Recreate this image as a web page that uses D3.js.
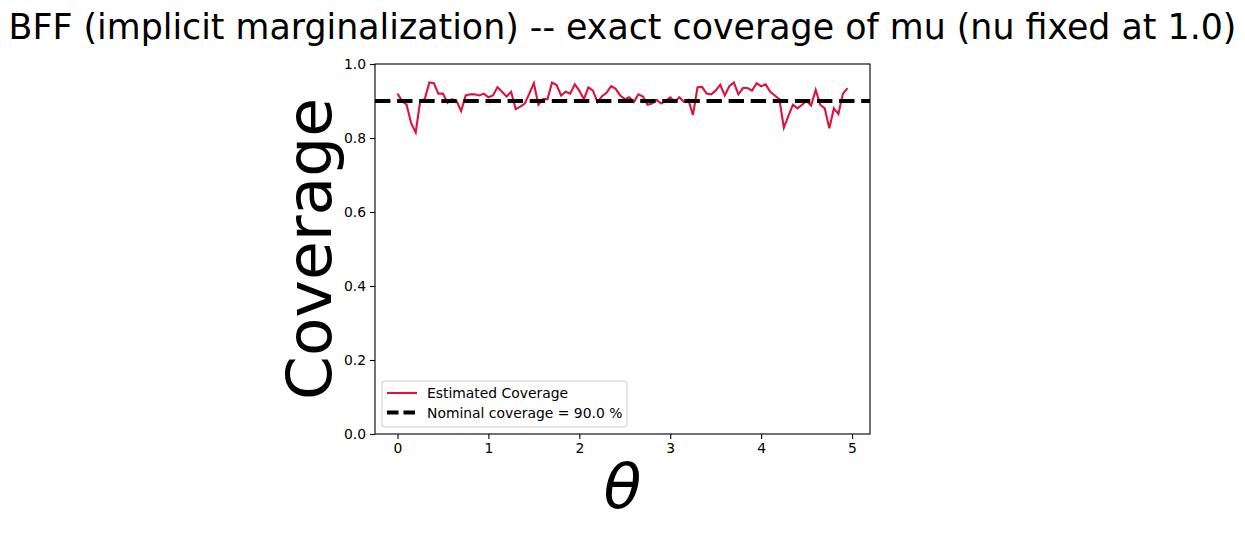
<!DOCTYPE html>
<html lang="en">
<head>
<meta charset="utf-8">
<title>BFF coverage</title>
<script src="https://cdnjs.cloudflare.com/ajax/libs/d3/7.8.5/d3.min.js"></script>
<style>
  body { margin: 0; background: #fff; }
  text { font-family: "DejaVu Sans", sans-serif; }
</style>
</head>
<body>
<script>
// theta grid 0 .. 4.95, step 0.05
const thetas = d3.range(100).map(i => +(i * 0.05).toFixed(2));
const coverage = [
  0.920, 0.900, 0.890, 0.840, 0.815, 0.900, 0.905, 0.950, 0.948, 0.920,
  0.920, 0.895, 0.905, 0.900, 0.873, 0.915, 0.918, 0.918, 0.915, 0.920,
  0.910, 0.915, 0.937, 0.925, 0.912, 0.925, 0.878, 0.885, 0.893, 0.920,
  0.948, 0.890, 0.905, 0.905, 0.950, 0.943, 0.915, 0.925, 0.920, 0.945,
  0.928, 0.905, 0.937, 0.928, 0.897, 0.913, 0.922, 0.940, 0.933, 0.915,
  0.905, 0.910, 0.897, 0.918, 0.912, 0.890, 0.893, 0.903, 0.893, 0.900,
  0.910, 0.898, 0.910, 0.898, 0.903, 0.862, 0.937, 0.938, 0.920, 0.918,
  0.928, 0.944, 0.915, 0.940, 0.950, 0.918, 0.935, 0.935, 0.928, 0.948,
  0.940, 0.945, 0.925, 0.915, 0.905, 0.828, 0.860, 0.890, 0.880, 0.890,
  0.900, 0.888, 0.930, 0.890, 0.880, 0.826, 0.880, 0.865, 0.920, 0.935
];
const nominal = 0.9;
const xTicks = [0, 1, 2, 3, 4, 5];
const yTicks = [0.0, 0.2, 0.4, 0.6, 0.8, 1.0];
const titleText = "BFF (implicit marginalization) -- exact coverage of mu (nu fixed at 1.0)";
const legendLabels = ["Estimated Coverage", "Nominal coverage = 90.0 %"];

const W = 1245, H = 533;
const m = { left: 375, right: 870, top: 64, bottom: 434 };

const svg = d3.select("body").append("svg")
  .attr("width", W).attr("height", H);

const x = d3.scaleLinear().domain([-0.2475, 5.1975]).range([m.left, m.right]);
const y = d3.scaleLinear().domain([0, 1]).range([m.bottom, m.top]);

// axes
const xAxis = svg.append("g")
  .attr("transform", `translate(0,${m.bottom})`)
  .call(d3.axisBottom(x).tickValues(xTicks).tickFormat(d3.format("d")).tickSize(5).tickPadding(4));
const yAxis = svg.append("g")
  .attr("transform", `translate(${m.left},0)`)
  .call(d3.axisLeft(y).tickValues(yTicks).tickFormat(d3.format(".1f")).tickSize(5).tickPadding(4));
[xAxis, yAxis].forEach(g => {
  g.select(".domain").remove();
  g.selectAll("text").attr("font-size", 13.9).attr("fill", "#000")
    .attr("font-family", "DejaVu Sans, sans-serif");
  g.selectAll("line").attr("stroke", "#000").attr("stroke-width", 1.1);
});

// estimated coverage line
const line = d3.line().x((d, i) => x(thetas[i])).y(d => y(d));
svg.append("path")
  .datum(coverage)
  .attr("d", line)
  .attr("fill", "none")
  .attr("stroke", "crimson")
  .attr("stroke-width", 2.1);

// nominal coverage
svg.append("line")
  .attr("x1", m.left).attr("x2", m.right)
  .attr("y1", y(nominal)).attr("y2", y(nominal))
  .attr("stroke", "#000").attr("stroke-width", 4.2)
  .attr("stroke-dasharray", "15.4,6.7");

// frame
svg.append("rect")
  .attr("x", m.left).attr("y", m.top)
  .attr("width", m.right - m.left).attr("height", m.bottom - m.top)
  .attr("fill", "none").attr("stroke", "#000").attr("stroke-width", 1.1);

// title
svg.append("text")
  .attr("x", (m.left + m.right) / 2).attr("y", 39)
  .attr("text-anchor", "middle")
  .attr("font-size", 34.8)
  .text(titleText);

// axis labels
svg.append("text")
  .attr("transform", `translate(331,${(m.top + m.bottom) / 2}) rotate(-90)`)
  .attr("text-anchor", "middle")
  .attr("font-size", 63)
  .text("Coverage");
svg.append("text")
  .attr("x", (m.left + m.right) / 2).attr("y", 508)
  .attr("text-anchor", "middle")
  .attr("font-size", 62)
  .attr("font-style", "italic")
  .text("θ");

// legend
const lg = svg.append("g").attr("transform", "translate(382,381)");
lg.append("rect")
  .attr("width", 245).attr("height", 46).attr("rx", 3)
  .attr("fill", "#fff").attr("fill-opacity", 0.8)
  .attr("stroke", "#ccc").attr("stroke-width", 1);
lg.append("line").attr("x1", 5).attr("x2", 35).attr("y1", 12).attr("y2", 12)
  .attr("stroke", "crimson").attr("stroke-width", 2.1);
lg.append("line").attr("x1", 5).attr("x2", 35).attr("y1", 31.5).attr("y2", 31.5)
  .attr("stroke", "#000").attr("stroke-width", 4.2).attr("stroke-dasharray", "11.5,5");
legendLabels.forEach((t, i) => {
  lg.append("text").attr("x", 45).attr("y", 12 + i * 19.5 + 5)
    .attr("font-size", 13.9).text(t);
});
</script>
</body>
</html>
